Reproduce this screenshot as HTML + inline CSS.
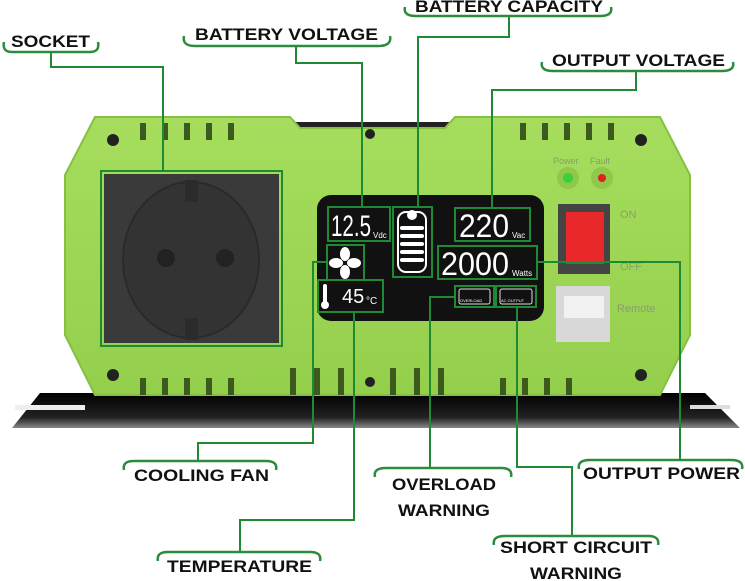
<!DOCTYPE html>
<html><head><meta charset="utf-8"><style>
html,body{margin:0;padding:0;background:#fff}
svg{display:block}
.lb{font-family:"Liberation Sans",Arial,sans-serif;font-weight:bold;font-size:17px;fill:#111}
.ln{stroke:#1f8a34;stroke-width:2;fill:none}
.br{stroke:#2e8b3c;stroke-width:2.5;fill:none}
.bx{stroke:#1f8a34;stroke-width:2;fill:none}
.sg{font-family:"Liberation Sans",sans-serif;fill:#fff}
</style></head><body>
<svg width="745" height="581" viewBox="0 0 745 581" xmlns="http://www.w3.org/2000/svg">
<defs>
<linearGradient id="pl" x1="0" y1="0" x2="0" y2="1"><stop offset="0" stop-color="#000"/><stop offset="0.7" stop-color="#222"/><stop offset="1" stop-color="#888"/></linearGradient>
<linearGradient id="bd" x1="0" y1="0" x2="0" y2="1"><stop offset="0" stop-color="#a6dd5e"/><stop offset="1" stop-color="#94cf4c"/></linearGradient>
</defs>
<polygon points="40,393 705,393 740,428 12,428" fill="url(#pl)"/>
<rect x="15" y="405" width="70" height="5" fill="#eee"/>
<rect x="690" y="405" width="40" height="4" fill="#ddd"/>
<rect x="270" y="122" width="190" height="12" fill="#222"/>
<polygon points="95,117 290,117 300,128 445,128 455,117 660,117 690,175 690,335 660,395 95,395 65,335 65,175" fill="url(#bd)" stroke="#86c043" stroke-width="2"/>
<g fill="#3d5a1e">
<rect x="140" y="123" width="6" height="17"/><rect x="162" y="123" width="6" height="17"/><rect x="184" y="123" width="6" height="17"/><rect x="206" y="123" width="6" height="17"/><rect x="228" y="123" width="6" height="17"/>
<rect x="520" y="123" width="6" height="17"/><rect x="542" y="123" width="6" height="17"/><rect x="564" y="123" width="6" height="17"/><rect x="586" y="123" width="6" height="17"/><rect x="608" y="123" width="6" height="17"/>
<rect x="140" y="378" width="6" height="17"/><rect x="162" y="378" width="6" height="17"/><rect x="184" y="378" width="6" height="17"/><rect x="206" y="378" width="6" height="17"/><rect x="228" y="378" width="6" height="17"/>
<rect x="290" y="368" width="6" height="27"/><rect x="314" y="368" width="6" height="27"/><rect x="338" y="368" width="6" height="27"/><rect x="390" y="368" width="6" height="27"/><rect x="414" y="368" width="6" height="27"/><rect x="438" y="368" width="6" height="27"/>
<rect x="500" y="378" width="6" height="17"/><rect x="522" y="378" width="6" height="17"/><rect x="544" y="378" width="6" height="17"/><rect x="566" y="378" width="6" height="17"/>
</g>
<g fill="#222"><circle cx="113" cy="140" r="6"/><circle cx="641" cy="140" r="6"/><circle cx="113" cy="375" r="6"/><circle cx="641" cy="375" r="6"/><circle cx="370" cy="382" r="5"/><circle cx="370" cy="134" r="5"/></g>
<rect x="104" y="174" width="175" height="169" fill="#3a3a3a"/>
<ellipse cx="191" cy="260" rx="68" ry="78" fill="#333" stroke="#2a2a2a" stroke-width="2"/>
<circle cx="166" cy="258" r="9" fill="#222"/><circle cx="225" cy="258" r="9" fill="#222"/>
<rect x="185" y="180" width="13" height="22" fill="#2b2b2b"/><rect x="185" y="318" width="13" height="22" fill="#2b2b2b"/>
<rect x="101" y="171" width="181" height="175" class="bx"/>
<rect x="317" y="195" width="227" height="126" rx="14" fill="#111"/>
<rect x="328" y="207" width="62" height="34" class="bx"/>
<text x="331" y="236" class="sg" font-size="30" textLength="40" lengthAdjust="spacingAndGlyphs">12.5</text><text x="373" y="238" font-family="Liberation Sans" font-size="8" fill="#fff">Vdc</text>
<rect x="393" y="207" width="39" height="70" class="bx"/>
<rect x="398" y="212" width="28" height="60" rx="8" fill="none" stroke="#fff" stroke-width="2"/>
<circle cx="412" cy="215" r="5" fill="#fff"/>
<g fill="#fff"><rect x="400" y="226" width="24" height="4" rx="2"/><rect x="400" y="234" width="24" height="4" rx="2"/><rect x="400" y="242" width="24" height="4" rx="2"/><rect x="400" y="250" width="24" height="4" rx="2"/><rect x="400" y="258" width="24" height="4" rx="2"/></g>
<rect x="455" y="208" width="75" height="33" class="bx"/>
<text x="459" y="237" class="sg" font-size="32" textLength="50" lengthAdjust="spacingAndGlyphs">220</text><text x="512" y="238" font-family="Liberation Sans" font-size="8" fill="#fff">Vac</text>
<rect x="438" y="246" width="99" height="33" class="bx"/>
<text x="441" y="275" class="sg" font-size="32" textLength="68" lengthAdjust="spacingAndGlyphs">2000</text><text x="512" y="276" font-family="Liberation Sans" font-size="8" fill="#fff">Watts</text>
<rect x="327" y="245" width="37" height="35" class="bx"/>
<g fill="#fff"><ellipse cx="345" cy="254" rx="5" ry="7"/><ellipse cx="345" cy="272" rx="5" ry="7"/><ellipse cx="336" cy="263" rx="7" ry="5"/><ellipse cx="354" cy="263" rx="7" ry="5"/></g>
<circle cx="345" cy="263" r="2" fill="#111"/>
<rect x="318" y="280" width="65" height="32" class="bx"/>
<rect x="323" y="284" width="4" height="20" rx="2" fill="#fff"/><circle cx="325" cy="305" r="4" fill="#fff"/>
<text x="342" y="303" class="sg" font-size="20">45</text><text x="366" y="304" font-family="Liberation Sans" font-size="10" fill="#fff">°C</text>
<rect x="455" y="286" width="39" height="21" class="bx"/>
<rect x="459" y="289" width="31" height="15" rx="2" fill="none" stroke="#ddd" stroke-width="1"/>
<text x="460" y="302" font-family="Liberation Sans" font-size="4" fill="#fff">OVERLOAD</text>
<rect x="496" y="286" width="40" height="21" class="bx"/>
<rect x="500" y="289" width="32" height="15" rx="2" fill="none" stroke="#ddd" stroke-width="1"/>
<text x="501" y="302" font-family="Liberation Sans" font-size="4" fill="#fff">AC OUTPUT</text>
<text x="553" y="164" font-family="Liberation Sans" font-size="9" fill="#8a9e6a">Power</text>
<text x="590" y="164" font-family="Liberation Sans" font-size="9" fill="#8a9e6a">Fault</text>
<circle cx="568" cy="178" r="11" fill="#8fc84a"/><circle cx="568" cy="178" r="5" fill="#3ad03a"/>
<circle cx="602" cy="178" r="11" fill="#8fc84a"/><circle cx="602" cy="178" r="4" fill="#e02020"/>
<rect x="558" y="204" width="52" height="70" fill="#444"/>
<rect x="566" y="212" width="38" height="52" fill="#e8282a"/>
<text x="620" y="218" font-family="Liberation Sans" font-size="11" fill="#8a9e6a">ON</text>
<text x="620" y="270" font-family="Liberation Sans" font-size="11" fill="#8a9e6a">OFF</text>
<rect x="556" y="286" width="54" height="56" fill="#d8d8d8"/>
<rect x="564" y="296" width="40" height="22" fill="#f2f2f2"/>
<text x="617" y="312" font-family="Liberation Sans" font-size="11" fill="#8a9e6a">Remote</text>
<polyline class="ln" points="51,52 51,67 163,67 163,171"/>
<polyline class="ln" points="296,46 296,63 362,63 362,207"/>
<polyline class="ln" points="509,16 509,37 418,37 418,207"/>
<polyline class="ln" points="636,71 636,90 492,90 492,208"/>
<polyline class="ln" points="198,461 198,443 313,443 313,262 327,262"/>
<polyline class="ln" points="240,552 240,520 354,520 354,312"/>
<polyline class="ln" points="430,468 430,297 455,297"/>
<polyline class="ln" points="572,536 572,467 517,467 517,307"/>
<polyline class="ln" points="680,460 680,262 537,262"/>
<text x="11" y="47" class="lb" textLength="79" lengthAdjust="spacingAndGlyphs">SOCKET</text>
<path class="br" d="M4,42 Q2,52 12,52 L90,52 Q100,52 98,42"/>
<text x="195" y="40" class="lb" textLength="183" lengthAdjust="spacingAndGlyphs">BATTERY VOLTAGE</text>
<path class="br" d="M184,36 Q182,46 195,46 L378,46 Q392,46 390,36"/>
<text x="415" y="12" class="lb" textLength="188" lengthAdjust="spacingAndGlyphs">BATTERY CAPACITY</text>
<path class="br" d="M405,7 Q403,16 416,16 L600,16 Q613,16 611,7"/>
<text x="552" y="66" class="lb" textLength="173" lengthAdjust="spacingAndGlyphs">OUTPUT VOLTAGE</text>
<path class="br" d="M542,62 Q540,71 553,71 L722,71 Q735,71 733,62"/>
<path class="br" d="M124,470 Q122,461 134,461 L266,461 Q278,461 276,470"/>
<text x="134" y="481" class="lb" textLength="135" lengthAdjust="spacingAndGlyphs">COOLING FAN</text>
<path class="br" d="M158,561 Q156,552 168,552 L310,552 Q322,552 320,561"/>
<text x="167" y="572" class="lb" textLength="145" lengthAdjust="spacingAndGlyphs">TEMPERATURE</text>
<path class="br" d="M375,477 Q373,468 386,468 L501,468 Q513,468 511,477"/>
<text x="392" y="490" class="lb" textLength="104" lengthAdjust="spacingAndGlyphs">OVERLOAD</text>
<text x="398" y="516" class="lb" textLength="92" lengthAdjust="spacingAndGlyphs">WARNING</text>
<path class="br" d="M494,545 Q492,536 505,536 L648,536 Q660,536 658,545"/>
<text x="500" y="553" class="lb" textLength="152" lengthAdjust="spacingAndGlyphs">SHORT CIRCUIT</text>
<text x="530" y="579" class="lb" textLength="92" lengthAdjust="spacingAndGlyphs">WARNING</text>
<path class="br" d="M579,469 Q577,460 590,460 L731,460 Q744,460 742,469"/>
<text x="583" y="479" class="lb" textLength="157" lengthAdjust="spacingAndGlyphs">OUTPUT POWER</text>
</svg>
</body></html>
